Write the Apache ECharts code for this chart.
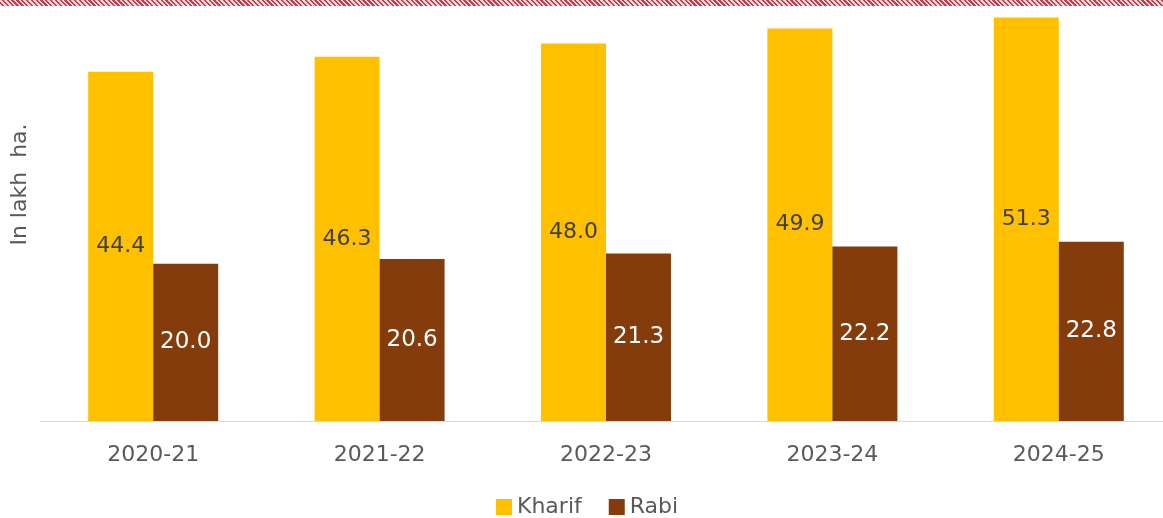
<!DOCTYPE html>
<html>
<head>
<meta charset="utf-8">
<script src="https://cdn.jsdelivr.net/npm/echarts@6/dist/echarts.min.js"></script>
<style>
html,body{margin:0;padding:0;background:#fff;overflow:hidden;width:1163px;height:518px;}
#band{position:absolute;left:0;top:0;width:1163px;height:6px;
background:repeating-linear-gradient(45deg,#f7d6d9 0px,#f7d6d9 1.8px,#bf3f4c 1.8px,#bf3f4c 3.4px);}
#chart{position:absolute;left:0;top:0;width:1173px;height:518px;}
</style>
</head>
<body>
<div id="chart"></div>
<div id="band"></div>
<script>
const categories = ['2020-21','2021-22','2022-23','2023-24','2024-25'];
const kharif = [44.4, 46.3, 48.0, 49.9, 51.3];
const rabi = [20.0, 20.6, 21.3, 22.2, 22.8];
const yAxisTitle = 'In lakh  ha.';
const FONT = 'DejaVu Sans';
const chart = echarts.init(document.getElementById('chart'));
chart.setOption({
  animation:false,
  textStyle:{fontFamily:FONT},
  grid:{left:40, right:1, top:12, bottom:97, containLabel:false},
  legend:{
    data:['Kharif','Rabi'], top:491, left:491, itemWidth:16, itemHeight:16, itemGap:27,
    icon:'rect', textStyle:{fontSize:22, color:'#595959', fontFamily:FONT}
  },
  graphic:[{
    type:'text', x:20.5, y:184.5, rotation:Math.PI/2,
    style:{text:yAxisTitle, fontSize:22, fill:'#595959', fontFamily:FONT, textAlign:'center', textVerticalAlign:'middle'}
  }],
  xAxis:{
    type:'category', data:categories,
    axisLine:{lineStyle:{color:'#d9d9d9', width:1}},
    axisTick:{show:false},
    axisLabel:{fontSize:22, color:'#595959', margin:23, fontFamily:FONT}
  },
  yAxis:{
    type:'value', min:0, max:52,
    axisLine:{show:false}, axisTick:{show:false}, axisLabel:{show:false}, splitLine:{show:false}
  },
  series:[
    {name:'Kharif', type:'bar', data:kharif, barWidth:65, barGap:'0%',
     itemStyle:{color:'#FFC000'},
     label:{show:true, position:'inside', formatter:p=>p.value.toFixed(1), fontSize:22, color:'#404040', fontFamily:FONT}},
    {name:'Rabi', type:'bar', data:rabi, barWidth:65,
     itemStyle:{color:'#843C0C'},
     label:{show:true, position:'inside', formatter:p=>p.value.toFixed(1), fontSize:23, color:'#ffffff', fontFamily:FONT}}
  ]
});
</script>
</body>
</html>
